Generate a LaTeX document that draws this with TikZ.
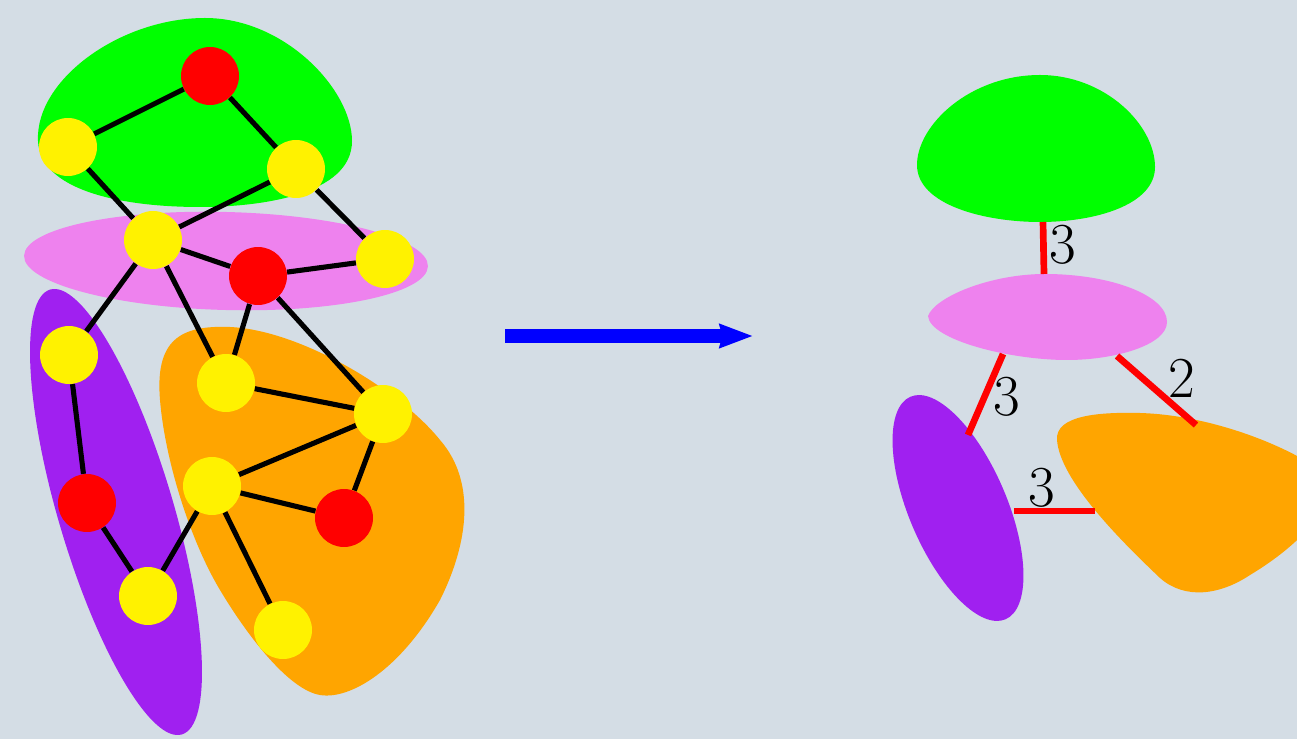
\documentclass[tikz,border=0pt]{standalone}
\usepackage{fontspec}
\usetikzlibrary{arrows.meta}
\definecolor{bg}{HTML}{D4DDE5}
\definecolor{blobgreen}{HTML}{00FF00}
\definecolor{blobpink}{HTML}{EE82EE}
\definecolor{blobpurple}{HTML}{A020F0}
\definecolor{bloborange}{HTML}{FFA500}
\begin{document}
\begin{tikzpicture}[x=0.02cm,y=-0.02cm,
  vtx/.style={circle,inner sep=0pt,minimum size=1.16cm},
  yv/.style={vtx,fill=yellow},
  rv/.style={vtx,fill=red},
  edge/.style={line width=2.9pt,black},
  redge/.style={line width=3.8pt,red},
  lbl/.style={font=\fontsize{33}{36}\selectfont,inner sep=0pt}]
\fill[bg] (0,0) rectangle (1297,739);
\useasboundingbox (0,0) rectangle (1297,739);
\begin{scope}
\clip (0,0) rectangle (1297,739);
% ---------- left blobs ----------
\fill[blobgreen] (38,141) .. controls (35,80) and (120,18) .. (205,18)
  .. controls (285,18) and (352,90) .. (352,141)
  .. controls (352,195) and (260,207) .. (200,207)
  .. controls (120,207) and (40,190) .. (38,141) -- cycle;
\fill[blobpink, rotate around={-1.5:(226,261)}] (226,261) ellipse [x radius=202, y radius=49];
\fill[bloborange] (160,400) .. controls (155,340) and (180,325) .. (230,327)
  .. controls (300,330) and (400,390) .. (440,440)
  .. controls (475,480) and (470,540) .. (440,600)
  .. controls (400,670) and (350,700) .. (320,695)
  .. controls (290,690) and (250,640) .. (220,590)
  .. controls (190,540) and (165,460) .. (160,400) -- cycle;
\fill[blobpurple, rotate around={-73.5:(116,512)}] (116,512) ellipse [x radius=232, y radius=57.6];
% ---------- right blobs ----------
\fill[blobgreen] (917,165) .. controls (917,125) and (970,75) .. (1040,75)
  .. controls (1105,75) and (1155,125) .. (1155,167)
  .. controls (1155,205) and (1095,222) .. (1040,222)
  .. controls (985,222) and (917,205) .. (917,165) -- cycle;
\fill[blobpink] (928,316) .. controls (935,297) and (990,274) .. (1045,274)
  .. controls (1110,274) and (1167,295) .. (1167,322)
  .. controls (1167,345) and (1115,360) .. (1067,360)
  .. controls (1010,360) and (930,340) .. (928,316) -- cycle;
\fill[blobpurple, rotate around={-66.9:(958,508)}] (958,508) ellipse [x radius=121, y radius=49];
\fill[bloborange] (1057,440) .. controls (1055,415) and (1100,412) .. (1140,413)
  .. controls (1210,415) and (1285,445) .. (1320,470)
  .. controls (1345,500) and (1300,545) .. (1250,575)
  .. controls (1220,595) and (1185,600) .. (1160,578)
  .. controls (1120,540) and (1060,480) .. (1057,440) -- cycle;
\end{scope}
% ---------- left graph ----------
\node[rv] (R1) at (210,76) {};
\node[yv] (Y1) at (68,147) {};
\node[yv] (Y2) at (296,169) {};
\node[yv] (Y3) at (153,240) {};
\node[rv] (R2) at (258,276) {};
\node[yv] (Y4) at (385,259) {};
\node[yv] (Y5) at (69,355) {};
\node[yv] (Y6) at (226,383) {};
\node[yv] (Y7) at (383,414) {};
\node[yv] (Y8) at (212,486) {};
\node[rv] (R3) at (87,503) {};
\node[rv] (R4) at (344,518) {};
\node[yv] (Y9) at (148,596) {};
\node[yv] (Y10) at (283,630) {};
\foreach \a/\b in {R1/Y1,R1/Y2,Y1/Y3,Y2/Y3,Y2/Y4,Y3/R2,R2/Y4,Y3/Y5,Y3/Y6,
  R2/Y6,R2/Y7,Y6/Y7,Y7/Y8,Y7/R4,Y8/R4,Y8/Y10,Y8/Y9,Y5/R3,R3/Y9}
  \draw[edge] (\a) -- (\b);
% ---------- arrow ----------
\coordinate (A1) at (505,336);
\coordinate (A2) at (753,336);
\draw[blue,line width=7.8pt,-{Stealth[length=0.66cm,width=0.46cm,inset=0.05cm]}] (A1) -- (A2);
% ---------- right connectors ----------
\coordinate (gp1) at (1043,222);
\coordinate (gp2) at (1044,274);
\coordinate (pu1) at (1003,354);
\coordinate (pu2) at (968,435);
\coordinate (po1) at (1117,356);
\coordinate (po2) at (1196,425);
\coordinate (uo1) at (1014,511);
\coordinate (uo2) at (1095,511);
\draw[redge] (gp1) -- (gp2);
\draw[redge] (pu1) -- (pu2);
\draw[redge] (po1) -- (po2);
\draw[redge] (uo1) -- (uo2);
\node[lbl] (l1) at (1063,245) {3};
\node[lbl] (l2) at (1007,397) {3};
\node[lbl] (l3) at (1182,378) {2};
\node[lbl] (l4) at (1042,488) {3};
\end{tikzpicture}
\end{document}
